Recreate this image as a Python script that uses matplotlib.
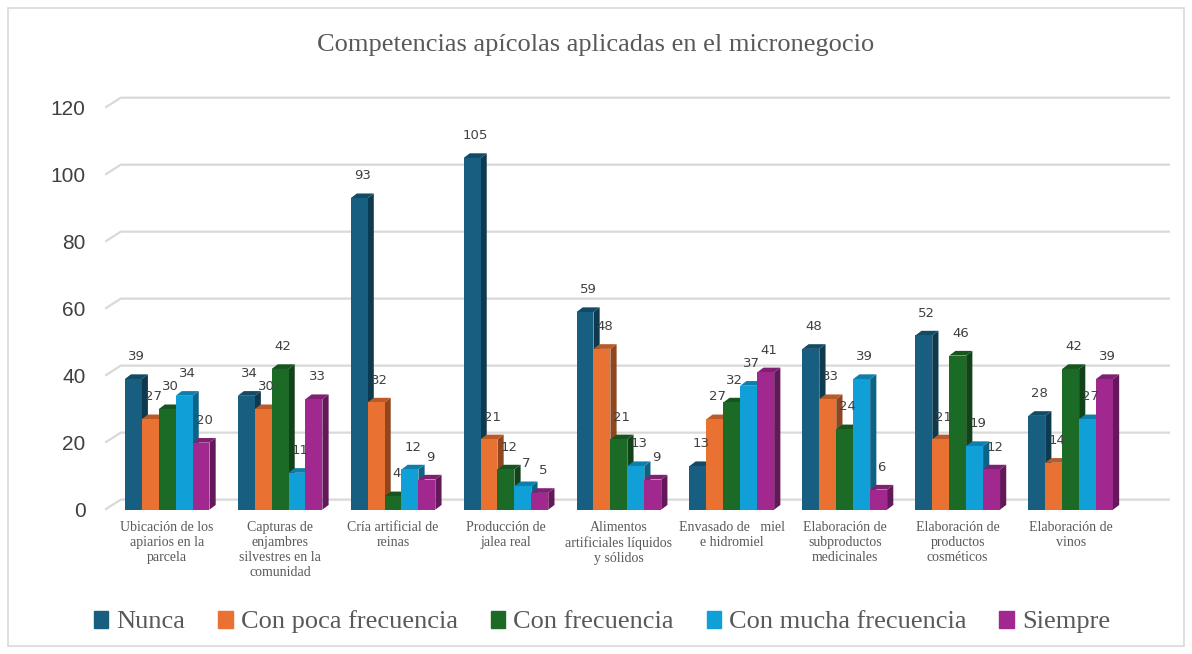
import numpy as np
import matplotlib.pyplot as plt
from matplotlib.patches import Polygon, Rectangle
from matplotlib.colors import to_rgb

# Datos
categorias = [
    "Ubicación de los\napiarios en la\nparcela",
    "Capturas de\nenjambres\nsilvestres en la\ncomunidad",
    "Cría artificial de\nreinas",
    "Producción de\njalea real",
    "Alimentos\nartificiales líquidos\ny sólidos",
    "Envasado de   miel\ne hidromiel",
    "Elaboración de\nsubproductos\nmedicinales",
    "Elaboración de\nproductos\ncosméticos",
    "Elaboración de\nvinos",
]
series = ["Nunca", "Con poca frecuencia", "Con frecuencia",
          "Con mucha frecuencia", "Siempre"]
nunca = [39, 34, 93, 105, 59, 13, 48, 52, 28]
poca = [27, 30, 32, 21, 48, 27, 33, 21, 14]
frecuencia = [30, 42, 4, 12, 21, 32, 24, 46, 42]
mucha = [34, 11, 12, 7, 13, 37, 39, 19, 27]
siempre = [20, 33, 9, 5, 9, 41, 6, 12, 39]
valores = [nunca, poca, frecuencia, mucha, siempre]
colores = ["#175e80", "#e97132", "#1b6b26", "#119fd8", "#a0288f"]
y_ticks = [0, 20, 40, 60, 80, 100, 120]

W, H = 1192, 654
fig = plt.figure(figsize=(W / 100, H / 100), dpi=100)
fig.patches.append(Rectangle((8 / W, 8 / H), 1 - 16 / W, 1 - 16 / H,
                             transform=fig.transFigure, fill=False,
                             edgecolor="#d9d9d9", linewidth=1.2))

ax = fig.add_axes([105 / W, 141 / H, 1065 / W, 422 / H])
x0, x1 = -0.55, 8.88
ax.set_xlim(x0, x1)
ax.set_ylim(-1, 125)
for s in ax.spines.values():
    s.set_visible(False)

# rejilla de la pared trasera
gdx, gdy = 0.14, 3.0
for t in y_ticks:
    ax.plot([x0, x0 + gdx, x1], [t, t + gdy, t + gdy], color="#d9d9d9",
            lw=1.6, zorder=0, solid_capstyle="butt")

def oscurecer(c, f):
    r, g, b = to_rgb(c)
    return (r * f, g * f, b * f)

w = 0.15
dx, dy = 0.055, 1.4
x = np.arange(len(categorias))
z = 2
for i in x:
    for j, vals in enumerate(valores):
        v = vals[i]
        left = i - 2.5 * w + j * w
        c = colores[j]
        ax.add_patch(Polygon([(left + w, 0), (left + w + dx, dy),
                              (left + w + dx, v + dy), (left + w, v)],
                             closed=True, facecolor=oscurecer(c, 0.62),
                             edgecolor="none", zorder=z))
        ax.add_patch(Polygon([(left, v), (left + dx, v + dy),
                              (left + w + dx, v + dy), (left + w, v)],
                             closed=True, facecolor=oscurecer(c, 0.8),
                             edgecolor="none", zorder=z))
        ax.add_patch(Rectangle((left, 0), w, v, facecolor=c,
                               edgecolor="none", zorder=z + 0.5))
        ax.annotate(str(v), (left + w / 2 + dx / 2, v + dy),
                    xytext=(0, 8), textcoords="offset points",
                    ha="center", va="bottom", fontsize=9.5,
                    color="#404040", zorder=50)
        z += 1

ax.set_yticks(y_ticks)
ax.set_yticklabels([str(t) for t in y_ticks], fontsize=15,
                   color="#404040", family="Liberation Sans")
ax.tick_params(axis="y", length=0, pad=14)
ax.set_xticks(x)
ax.set_xticklabels(categorias, fontsize=10, color="#595959",
                   family="Liberation Serif", linespacing=1.2)
ax.tick_params(axis="x", length=0, pad=6)

fig.text(0.5, 1 - 45 / H, "Competencias apícolas aplicadas en el micronegocio",
         ha="center", va="center", fontsize=19, color="#595959",
         family="Liberation Serif")

handles = [Rectangle((0, 0), 1, 1, color=c) for c in colores]
fig.legend(handles, series, loc="center", bbox_to_anchor=(0.505, 1 - 622 / H),
           ncol=5, frameon=False, handlelength=0.55, handleheight=0.6,
           handletextpad=0.3, columnspacing=1.25,
           prop={"family": "Liberation Serif", "size": 19},
           labelcolor="#595959")

fig.savefig("out.png", dpi=100)
